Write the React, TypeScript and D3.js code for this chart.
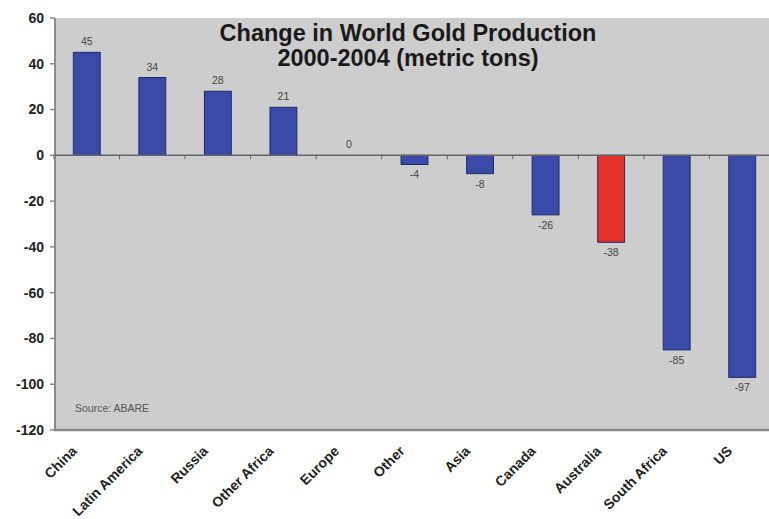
import React from "react";
import * as d3 from "d3";

const categories = ["China", "Latin America", "Russia", "Other Africa", "Europe", "Other", "Asia", "Canada", "Australia", "South Africa", "US"];
const values = [45, 34, 28, 21, 0, -4, -8, -26, -38, -85, -97];
const highlight = ["Australia"];
const yTicks = [60, 40, 20, 0, -20, -40, -60, -80, -100, -120];
const titleLines = ["Change in World Gold Production", "2000-2004 (metric tons)"];
const sourceText = "Source: ABARE";

export default function App() {
  const W = 769, H = 519;
  const left = 54, right = 775, top = 18, bottom = 430;
  const x = d3.scaleBand<string>().domain(categories).range([left, right]).paddingInner(0.59).paddingOuter(0.295);
  const y = d3.scaleLinear().domain([-120, 60]).range([bottom, top]);
  const step = x.step();
  const font = "Arial, 'Liberation Sans', Helvetica, sans-serif";
  return (
    <svg width={W} height={H} style={{ position: "absolute", left: 0, top: 0, background: "#fff" }} fontFamily={font}>
      <rect x={left + 2} y={top} width={W - left} height={bottom - top} fill="#cdcdcd" />
      {/* y axis */}
      <line x1={left + 1} x2={left + 1} y1={top} y2={bottom} stroke="#8a8a8a" strokeWidth={2} />
      {yTicks.map((t) => (
        <g key={t}>
          <line x1={left - 4} x2={left + 1} y1={y(t)} y2={y(t)} stroke="#8a8a8a" strokeWidth={1.5} />
          <text x={left - 10} y={y(t)} dy="0.35em" textAnchor="end" fontSize={14} fontWeight="bold" fill="#222">{t}</text>
        </g>
      ))}
      {/* bars */}
      {categories.map((c, i) => {
        const v = values[i];
        const y0 = y(Math.max(0, v));
        const h = Math.abs(y(v) - y(0));
        return (
          <g key={c}>
            {h > 0 && (
              <rect x={x(c)!} y={y0} width={x.bandwidth()} height={h}
                fill={highlight.includes(c) ? "#e3302a" : "#3a4aa8"} stroke="#1e2a6a" strokeWidth={1} />
            )}
            <text x={x(c)! + x.bandwidth() / 2} y={v >= 0 ? y(v) - 7 : y(v) + 14} textAnchor="middle" fontSize={10.5} fill="#444">{v}</text>
          </g>
        );
      })}
      {/* zero line + ticks */}
      <line x1={left + 1} x2={W} y1={y(0)} y2={y(0)} stroke="#666" strokeWidth={1.5} />
      {categories.map((c, i) => (
        <line key={"t" + c} x1={left + step * i} x2={left + step * i} y1={y(0)} y2={y(0) + 4} stroke="#666" strokeWidth={1} />
      ))}
      {/* bottom axis */}
      <line x1={left} x2={W} y1={bottom} y2={bottom} stroke="#8a8a8a" strokeWidth={2.5} />
      {categories.map((c) => {
        const cx = x(c)! + x.bandwidth() / 2;
        return (
          <text key={"l" + c} transform={`translate(${cx - 9},${bottom + 22}) rotate(-45)`} textAnchor="end" fontSize={14} fontWeight="bold" fill="#222">{c}</text>
        );
      })}
      {/* title */}
      {titleLines.map((l, i) => (
        <text key={l} x={408} y={41 + i * 25} textAnchor="middle" fontSize={23.5} fontWeight="bold" fill="#1a1a1a">{l}</text>
      ))}
      <text x={75} y={412} fontSize={10.5} fill="#555">{sourceText}</text>
    </svg>
  );
}
